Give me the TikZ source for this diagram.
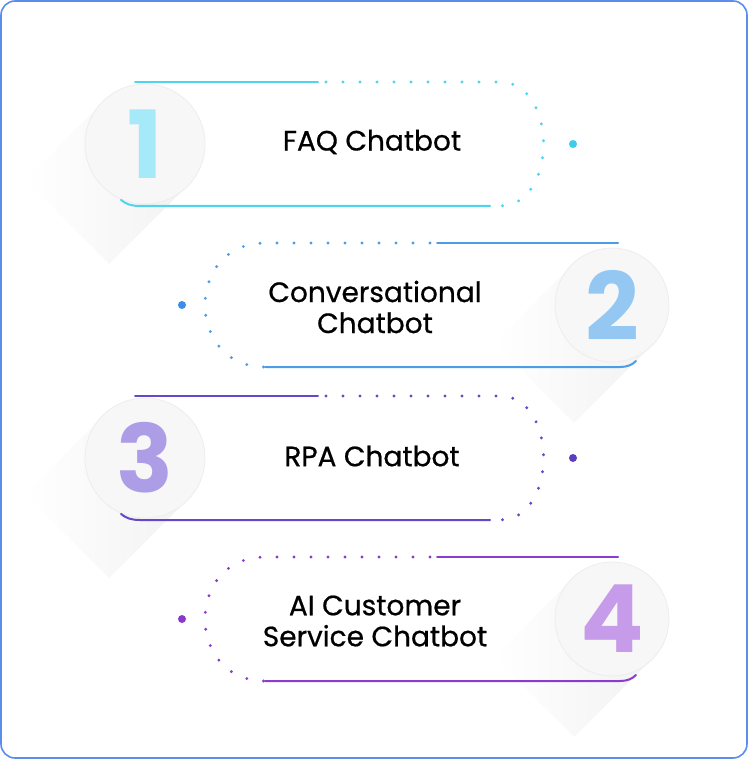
\documentclass[tikz,border=0pt]{standalone}
\usepackage{fontspec}
\setmainfont{Poppins}
\newfontfamily\labelfont{Poppins}[FakeBold=0.6]
\definecolor{frameC}{HTML}{5B8DEF}
\definecolor{lineA}{HTML}{4DD4EE}\definecolor{numA}{HTML}{A6E9F8}\definecolor{dotA}{HTML}{3DCDEB}
\definecolor{lineB}{HTML}{4A9DE6}\definecolor{numB}{HTML}{94C8F2}\definecolor{dotB}{HTML}{3A8EE6}
\definecolor{lineC}{HTML}{6548C8}\definecolor{numC}{HTML}{AD9DE6}\definecolor{dotC}{HTML}{5B3EC2}
\definecolor{lineD}{HTML}{8B3CCF}\definecolor{numD}{HTML}{C69BEA}\definecolor{dotD}{HTML}{8A3ACB}
\definecolor{discC}{HTML}{F7F7F7}
\tikzset{
  frame/.style={draw=frameC,line width=1.6pt,rounded corners=14pt},
  solidline/.style={line width=2pt,line cap=round},
  dotline/.style={line width=3.2pt,line cap=round,dash pattern=on 0pt off 17pt},
  disc/.style={circle,fill=discC,draw=black!7,line width=0.8pt,minimum size=#1,inner sep=0pt},
  numtext/.style={font=\fontsize{94}{94}\selectfont\bfseries},
  labeltext/.style={font=\labelfont\fontsize{28}{31}\selectfont,align=center,text=black},
  enddot/.style={circle,inner sep=0pt,minimum size=8pt},
  shadowband/.style={shading angle=45,left color=white,right color=black!5}
}
% left-circle row: #1 y centre, #2 line colour, #3 number colour, #4 dot colour, #5 number, #6 label
\newcommand{\RowLeft}[6]{%
  \shade[shadowband]
    (187,{#1+42}) -- (103,{#1-42}) -- (25,{#1+36}) -- (109,{#1+120}) -- cycle;
  \node[disc=120pt] (c#5) at (145,#1) {};
  \node[numtext,text=#3] (n#5) at (c#5) {#5};
  \draw[solidline,#2] (135,{#1-62}) -- (318,{#1-62});
  \draw[dotline,#2] (326,{#1-62}) -- (500,{#1-62}) .. controls (558,{#1-62}) and (558,{#1+62}) .. (500,{#1+62});
  \draw[solidline,#2] (490,{#1+62}) -- (140,{#1+62}) .. controls (131,{#1+62}) and (126,{#1+60}) .. (121,{#1+56});
  \node[enddot,fill=#4] (d#5) at (573,#1) {};
  \node[labeltext] (t#5) at (372,{#1-2}) {#6};
}
\newcommand{\RowRight}[6]{%
  \shade[shadowband]
    (652,{#1+40}) -- (572,{#1-40}) -- (494,{#1+38}) -- (574,{#1+118}) -- cycle;
  \node[disc=114pt] (c#5) at (612,#1) {};
  \node[numtext,text=#3] (n#5) at (c#5) {#5};
  \draw[solidline,#2] (437,{#1-62}) -- (618,{#1-62});
  \draw[dotline,#2] (430,{#1-62}) -- (265,{#1-62}) .. controls (185,{#1-62}) and (185,{#1+62}) .. (265,{#1+62});
  \draw[solidline,#2] (265,{#1+62}) -- (620,{#1+62}) .. controls (627,{#1+62}) and (632,{#1+60}) .. (636,{#1+56});
  \node[enddot,fill=#4] (d#5) at (182,#1) {};
  \node[labeltext] (t#5) at (375,{#1+2}) {#6};
}
\begin{document}
\begin{tikzpicture}[x=1pt,y=-1pt]
\useasboundingbox (0,0) rectangle (748,759);
\draw[frame] (1,1) rectangle (747,758);
\RowLeft{144}{lineA}{numA}{dotA}{1}{FAQ Chatbot}
\RowRight{305}{lineB}{numB}{dotB}{2}{Conversational\\Chatbot}
\RowLeft{458}{lineC}{numC}{dotC}{3}{RPA Chatbot}
\RowRight{619}{lineD}{numD}{dotD}{4}{AI Customer\\Service Chatbot}
\end{tikzpicture}
\end{document}
